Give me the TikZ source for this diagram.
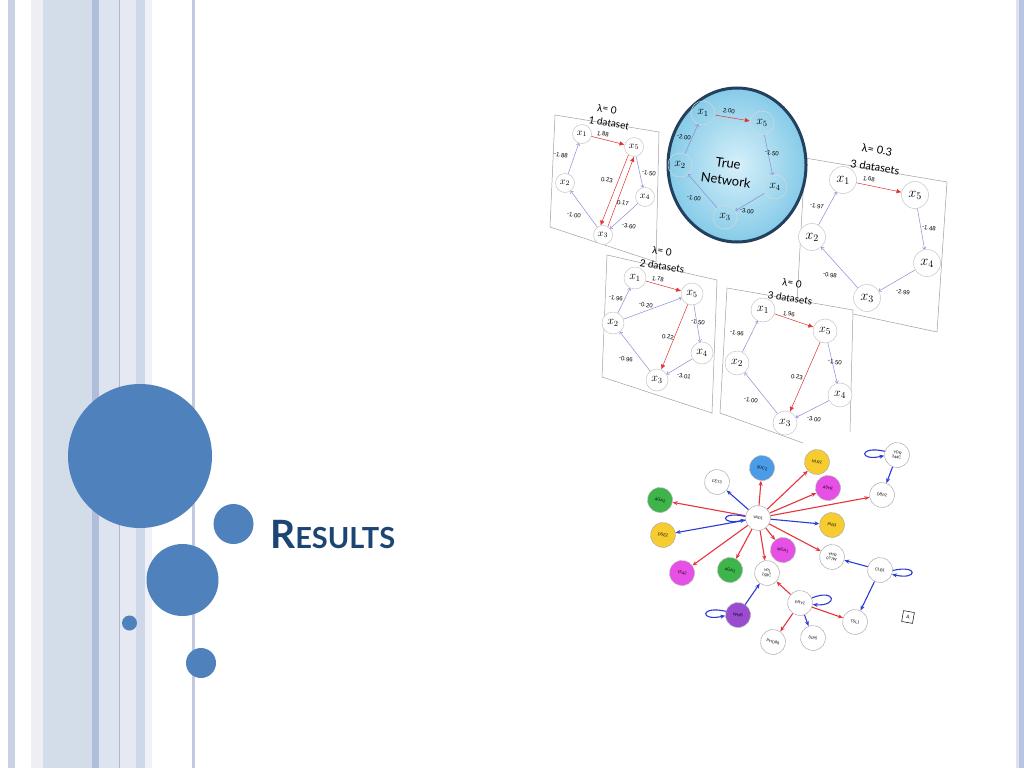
\documentclass[tikz,border=0pt]{standalone}
\usepackage{fontspec}
\setmainfont{Liberation Sans}
\newfontfamily\titlefont{Lato}
\usetikzlibrary{arrows.meta}
\definecolor{sA}{HTML}{C9D2E5}
\definecolor{sB}{HTML}{EEEFF5}
\definecolor{sC}{HTML}{D3DDEA}
\definecolor{sD}{HTML}{AFBFDB}
\definecolor{sE}{HTML}{DDE3EF}
\definecolor{sF}{HTML}{B0B7D3}
\definecolor{sG}{HTML}{E6E8F2}
\definecolor{sH}{HTML}{CED8EA}
\definecolor{sI}{HTML}{EFF1F7}
\definecolor{sJ}{HTML}{C3C9DF}
\definecolor{sK}{HTML}{B9C6E2}
\definecolor{dotblue}{HTML}{4F81BD}
\definecolor{titleblue}{HTML}{1C4573}
\definecolor{posred}{HTML}{E53030}
\definecolor{neglav}{HTML}{8C8CD8}
\definecolor{netborder}{HTML}{23405F}
\definecolor{netin}{HTML}{D6F0FA}
\definecolor{netout}{HTML}{86CBE8}
\definecolor{gred}{HTML}{E8333C}
\definecolor{gblue}{HTML}{2B3BD6}
\definecolor{ggreen}{HTML}{3DB54A}
\definecolor{gyellow}{HTML}{F6CC2F}
\definecolor{gmag}{HTML}{E84FE6}
\definecolor{gsky}{HTML}{4A9BE8}
\definecolor{gpurp}{HTML}{9A4CD0}
\tikzset{
  panel/.style={draw=gray!75, line width=0.5pt},
  xn/.style={circle, draw=gray!45, fill=white, inner sep=0pt, line width=0.5pt},
  tn/.style={circle, draw=white!70!gray, inner sep=0pt, minimum size=24pt, line width=0.5pt},
  pedge/.style={draw=posred, line width=0.5pt, -{Latex[length=5pt,width=4.5pt]}},
  nedge/.style={draw=neglav, line width=0.5pt, -{To[length=2.5pt,width=4pt]}},
  num/.style={font=\fontsize{6}{6}\selectfont, rotate=-9, inner sep=0pt},
  ttl/.style={font=\titlefont\fontsize{10}{11}\selectfont, rotate=-9, inner sep=0pt},
  gn/.style={circle, draw=gray!65, fill=white, line width=0.5pt, minimum size=25pt, inner sep=0pt, font=\fontsize{4}{4.5}\selectfont, align=center, rotate=-12},
  re/.style={draw=gred, line width=1.1pt, -{Stealth[length=5pt,width=4pt]}},
  be/.style={draw=gblue, line width=1.1pt, -{Stealth[length=5pt,width=4pt]}},
}
\begin{document}
\begin{tikzpicture}[x=1pt,y=-1pt]
\useasboundingbox (0,0) rectangle (1024,768);
\fill[white] (0,0) rectangle (1024,768);
% left stripes
\fill[sA] (8,0) rectangle (15,768);
\fill[sB] (31,0) rectangle (43,768);
\fill[sC] (43,0) rectangle (92,768);
\fill[sD] (92,0) rectangle (99,768);
\fill[sE] (99,0) rectangle (119,768);
\fill[sG] (119,0) rectangle (136,768);
\fill[sH] (136,0) rectangle (145,768);
\fill[sI] (145,0) rectangle (152,768);
\fill[sF] (119,0) rectangle (120,768);
\fill[sJ] (192,0) rectangle (195,768);
\fill[sE] (1016,0) rectangle (1019,768);
\fill[sK] (1019,0) rectangle (1024,768);
% circles
\fill[dotblue] (140,456) circle[radius=72pt];
\fill[dotblue] (233.5,524) circle[radius=20pt];
\fill[dotblue] (182.5,580) circle[radius=36pt];
\fill[dotblue] (129.5,623) circle[radius=7.5pt];
\fill[dotblue] (201,663) circle[radius=15pt];
% title
\node[anchor=base west, text=titleblue, inner sep=0pt] (title) at (270,548)
  {\titlefont\bfseries{\fontsize{39}{39}\selectfont R}{\fontsize{29}{29}\selectfont ESULTS}};

% ---------- panel lambda 0.3 ----------
\fill[white] (805,158) -- (947,182) -- (937,332) -- (797,302) -- cycle;
\draw[panel] (805,158) -- (947,182) -- (937,332) -- (797,302) -- cycle;
\node[ttl, font=\titlefont\fontsize{11}{11}\selectfont] (c-t1) at (877,150) {λ= 0.3};
\node[ttl, font=\titlefont\fontsize{11}{11}\selectfont] (c-t2) at (875,167) {3 datasets};
\begin{scope}[every node/.append style={font=\fontsize{14}{14}\selectfont}]
\node[xn, minimum size=27pt] (c1) at (843,180) {$x_1$};
\node[xn, minimum size=27pt] (c5) at (915,195) {$x_5$};
\node[xn, minimum size=27pt] (c2) at (812,237) {$x_2$};
\node[xn, minimum size=27pt] (c4) at (927,263) {$x_4$};
\node[xn, minimum size=27pt] (c3) at (867,298) {$x_3$};
\end{scope}
\draw[pedge] (c1) -- (c5);
\draw[nedge] (c2) -- (c1);
\draw[nedge] (c5) -- (c4);
\draw[nedge] (c4) -- (c3);
\draw[nedge] (c3) -- (c2);
\node[num] (c-l1) at (869,179) {1.68};
\node[num] (c-l2) at (817,206) {-1.97};
\node[num] (c-l3) at (929,228) {-1.48};
\node[num] (c-l4) at (830,275) {-0.98};
\node[num] (c-l5) at (903,292) {-2.99};

% ---------- panel 1 dataset ----------
\fill[white] (555,115) -- (659,132) -- (656,262) -- (550,227) -- cycle;
\draw[panel] (555,115) -- (659,132) -- (656,262) -- (550,227) -- cycle;
\node[ttl] (a-t1) at (607,109) {λ= 0};
\node[ttl] (a-t2) at (609,123) {1 dataset};
\begin{scope}[every node/.append style={font=\fontsize{10}{10}\selectfont}]
\node[xn, minimum size=19pt] (a1) at (582,134) {$x_1$};
\node[xn, minimum size=19pt] (a5) at (634,147) {$x_5$};
\node[xn, minimum size=19pt] (a2) at (565,183) {$x_2$};
\node[xn, minimum size=19pt] (a4) at (645,197) {$x_4$};
\node[xn, minimum size=19pt] (a3) at (603,235) {$x_3$};
\end{scope}
\draw[pedge] (a1) -- (a5);
\draw[nedge] (a2) -- (a1);
\draw[nedge] (a5) -- (a4);
\draw[nedge] (a4) -- (a3);
\draw[nedge] (a3) -- (a2);
\draw[pedge] (a5.235) -- (a3.105);
\draw[pedge] (a3.60) -- (a5.270);
\node[num] (a-l1) at (603,134) {1.88};
\node[num] (a-l2) at (561,155) {-1.88};
\node[num] (a-l3) at (607,180) {0.23};
\node[num] (a-l4) at (623,203) {0.17};
\node[num] (a-l5) at (649,173) {-1.50};
\node[num] (a-l6) at (574,215) {-1.00};
\node[num] (a-l7) at (629,226) {-3.60};

% ---------- true network ----------
\shade[inner color=netin, outer color=netout, draw=netborder, line width=3pt]
  (737,165) ellipse[x radius=69pt, y radius=77pt];
\begin{scope}[every node/.append style={font=\fontsize{12}{12}\selectfont}]
\node[tn] (t1) at (703,113) {$x_1$};
\node[tn] (t5) at (762,123) {$x_5$};
\node[tn] (t2) at (680,165) {$x_2$};
\node[tn] (t4) at (775,187) {$x_4$};
\node[tn] (t3) at (725,217) {$x_3$};
\end{scope}
\draw[pedge] (t1) -- (t5);
\draw[nedge] (t2) -- (t1);
\draw[nedge] (t5) -- (t4);
\draw[nedge] (t4) -- (t3);
\draw[nedge] (t3) -- (t2);
\node[num] (t-l1) at (729,111) {2.00};
\node[num] (t-l2) at (684,137) {-2.00};
\node[num] (t-l3) at (772,153) {-1.50};
\node[num] (t-l4) at (694,198) {-1.00};
\node[num] (t-l5) at (747,211) {-3.00};
\node[rotate=-8, align=center, inner sep=0pt, font=\titlefont\fontsize{13}{17}\selectfont] (truenet) at (727,172) {True\\Network};

% ---------- panel 2 datasets ----------
\fill[white] (607,255) -- (717,280) -- (712,413) -- (602,377) -- cycle;
\draw[panel] (607,255) -- (717,280) -- (712,413) -- (602,377) -- cycle;
\node[ttl] (d-t1) at (662,251) {λ= 0};
\node[ttl] (d-t2) at (662,266) {2 datasets};
\begin{scope}[every node/.append style={font=\fontsize{12}{12}\selectfont}]
\node[xn, minimum size=22pt] (d1) at (635,278) {$x_1$};
\node[xn, minimum size=22pt] (d5) at (692,294) {$x_5$};
\node[xn, minimum size=22pt] (d2) at (613,323) {$x_2$};
\node[xn, minimum size=22pt] (d4) at (702,353) {$x_4$};
\node[xn, minimum size=22pt] (d3) at (657,380) {$x_3$};
\end{scope}
\draw[pedge] (d1) -- (d5);
\draw[nedge] (d2) -- (d1);
\draw[nedge] (d2) -- (d5);
\draw[nedge] (d5) -- (d4);
\draw[pedge] (d5) -- (d3);
\draw[nedge] (d4) -- (d3);
\draw[nedge] (d3) -- (d2);
\node[num] (d-l1) at (658,279) {1.78};
\node[num] (d-l2) at (616,298) {-1.96};
\node[num] (d-l3) at (646,305) {-0.20};
\node[num] (d-l4) at (698,322) {-1.50};
\node[num] (d-l5) at (668,337) {0.22};
\node[num] (d-l6) at (626,359) {-0.96};
\node[num] (d-l7) at (684,376) {-3.01};

% ---------- panel lambda 0, 3 datasets ----------
\fill[white] (727,288) -- (853,310) -- (850,432) -- (805,444) -- (720,413) -- cycle;
\draw[panel] (720,413) -- (727,288) -- (853,310) -- (850,432);
\draw[panel] (720,413) -- (803,443);
\node[ttl] (e-t1) at (792,283) {λ= 0};
\node[ttl] (e-t2) at (790,298) {3 datasets};
\begin{scope}[every node/.append style={font=\fontsize{13}{13}\selectfont}]
\node[xn, minimum size=24pt] (e1) at (763,310) {$x_1$};
\node[xn, minimum size=24pt] (e5) at (825,331) {$x_5$};
\node[xn, minimum size=24pt] (e2) at (737,363) {$x_2$};
\node[xn, minimum size=24pt] (e4) at (840,395) {$x_4$};
\node[xn, minimum size=24pt] (e3) at (785,423) {$x_3$};
\end{scope}
\draw[pedge] (e1) -- (e5);
\draw[nedge] (e2) -- (e1);
\draw[nedge] (e5) -- (e4);
\draw[pedge] (e5) -- (e3);
\draw[nedge] (e4) -- (e3);
\draw[nedge] (e3) -- (e2);
\node[num] (e-l1) at (789,314) {1.96};
\node[num] (e-l2) at (737,333) {-1.96};
\node[num] (e-l3) at (835,362) {-1.50};
\node[num] (e-l4) at (797,377) {0.23};
\node[num] (e-l5) at (751,400) {-1.00};
\node[num] (e-l6) at (814,419) {-3.00};

% ---------- gene network ----------
\node[gn] (YAP1) at (758,518) {YAP1};
\node[gn] (FET3) at (717,482) {FET3};
\node[gn, fill=gsky] (SUC2) at (762,468) {SUC2};
\node[gn, fill=gyellow] (HLR1) at (817,462) {HLR1};
\node[gn, fill=gmag] (ASH1) at (828,488) {ASH1};
\node[gn] (YDR) at (897,455) {YDR\\344C};
\node[gn] (DBP2) at (882,495) {DBP2};
\node[gn, fill=ggreen] (AGA2) at (660,500) {AGA2};
\node[gn, fill=gyellow] (DSE2) at (663,535) {DSE2};
\node[gn, fill=gyellow] (PIR3) at (832,525) {PIR3};
\node[gn, fill=gmag] (MGA1) at (783,550) {MGA1};
\node[gn] (YHR) at (832,557) {YHR\\077W};
\node[gn] (CLB1) at (880,570) {CLB1};
\node[gn, fill=gmag] (TFA2) at (682,573) {TFA2};
\node[gn, fill=ggreen] (AGA1) at (730,570) {AGA1};
\node[gn] (YPL) at (767,573) {YPL\\158C};
\node[gn, fill=gpurp] (WHI5) at (738,615) {WHI5};
\node[gn] (PRY1) at (800,603) {PRY1};
\node[gn] (TSL1) at (855,622) {TSL1};
\node[gn] (PHO89) at (773,642) {PHO89};
\node[gn] (DIP5) at (813,638) {DIP5};
\node[draw, line width=0.5pt, minimum size=11pt, inner sep=0pt, rotate=-10, font=\fontsize{5}{5}\selectfont] (boxA) at (908,617) {A};

\draw[be] (YAP1) -- (FET3);
\draw[re] (YAP1) -- (SUC2);
\draw[re] (YAP1) -- (HLR1);
\draw[re] (YAP1) -- (ASH1);
\draw[re] (YAP1) -- (DBP2);
\draw[be] (YAP1) -- (PIR3);
\draw[re] (YAP1) -- (YHR);
\draw[re] (YAP1) -- (MGA1);
\draw[re] (YAP1) -- (YPL);
\draw[re] (YAP1) -- (AGA1);
\draw[re] (YAP1) -- (TFA2);
\draw[be] (YAP1) -- (DSE2);
\draw[re] (YAP1) -- (AGA2);
\draw[be] (YAP1.185) .. controls +(-26,-6) and +(-26,6) .. (YAP1.200);
\draw[be] (YDR) -- (DBP2);
\draw[be] (YDR.175) .. controls +(-26,-6) and +(-26,6) .. (YDR.195);
\draw[be] (CLB1) -- (YHR);
\draw[be] (CLB1) -- (TSL1);
\draw[be] (CLB1.10) .. controls +(26,-6) and +(26,6) .. (CLB1.-8);
\draw[re] (PRY1) -- (YPL);
\draw[re] (PRY1) -- (TSL1);
\draw[re] (PRY1) -- (PHO89);
\draw[be] (PRY1) -- (DIP5);
\draw[be] (PRY1.35) .. controls +(24,-10) and +(26,2) .. (PRY1.5);
\draw[be] (WHI5) -- (YPL);
\draw[be] (WHI5.175) .. controls +(-26,-6) and +(-26,6) .. (WHI5.195);
\end{tikzpicture}
\end{document}
